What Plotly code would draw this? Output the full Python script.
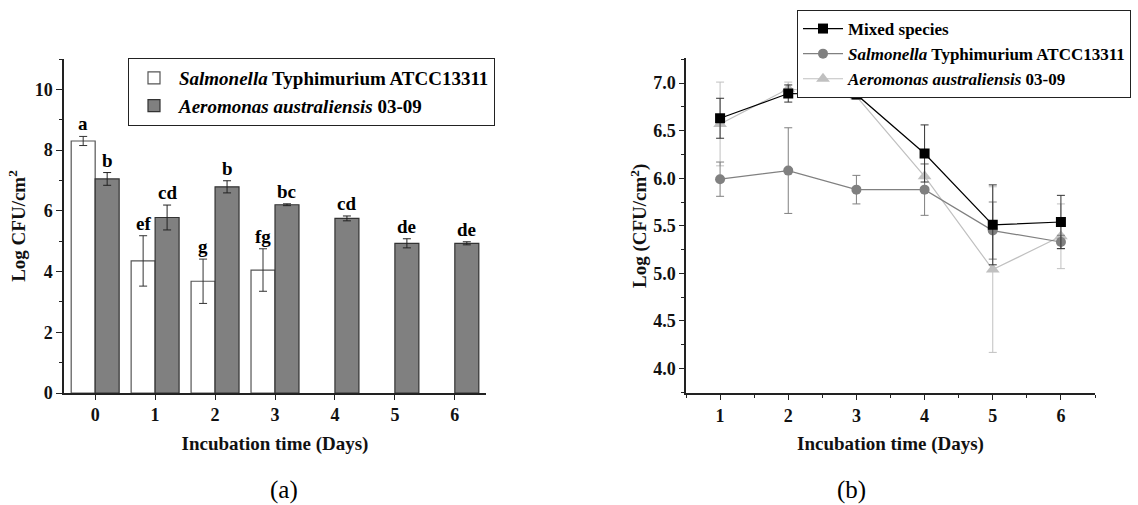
import plotly.graph_objects as go

# ---------------- data ----------------
days_a = [0, 1, 2, 3, 4, 5, 6]
salm_days = [0, 1, 2, 3]
salm_vals = [8.30, 4.35, 3.68, 4.05]
salm_err = [0.15, 0.83, 0.73, 0.70]
salm_letters = ["a", "ef", "g", "fg"]

aero_vals = [7.05, 5.78, 6.79, 6.20, 5.75, 4.93, 4.93]
aero_err = [0.21, 0.41, 0.20, 0.03, 0.08, 0.15, 0.05]
aero_letters = ["b", "cd", "b", "bc", "cd", "de", "de"]

days_b = [1, 2, 3, 4, 5, 6]
mixed_vals = [6.63, 6.89, 6.88, 6.26, 5.51, 5.54]
mixed_err = [0.21, 0.09, 0.01, 0.30, 0.42, 0.28]
salm_b_vals = [5.99, 6.08, 5.88, 5.88, 5.45, 5.33]
salm_b_err = [0.18, 0.45, 0.15, 0.27, 0.30, 0.07]
aero_b_vals = [6.57, 6.94, 6.86, 6.02, 5.04, 5.39]
aero_b_err = [0.44, 0.07, 0.03, 0.13, 0.87, 0.34]

FONT = "Liberation Serif"
BARGAP = 0.2
half = (1 - BARGAP) / 4  # offset of each bar's centre within a 2-bar group

fig = go.Figure()

# ---------------- panel (a) ----------------
fig.add_trace(go.Bar(
    x=salm_days, y=salm_vals, name="<i>Salmonella</i> Typhimurium ATCC13311",
    marker=dict(color="white", line=dict(color="#555555", width=1.2)),
    error_y=dict(type="data", array=salm_err, color="#333333", thickness=1, width=4),
    xaxis="x", yaxis="y", legend="legend"))
fig.add_trace(go.Bar(
    x=days_a, y=aero_vals, name="<i>Aeromonas australiensis</i> 03-09",
    marker=dict(color="#808080", line=dict(color="#333333", width=1.2)),
    error_y=dict(type="data", array=aero_err, color="#222222", thickness=1, width=4),
    xaxis="x", yaxis="y", legend="legend"))

annotations = []
for d, v, e, t in zip(salm_days, salm_vals, salm_err, salm_letters):
    annotations.append(dict(x=d - half, y=v + e, xref="x", yref="y", text=t,
                            showarrow=False, yanchor="bottom", yshift=0,
                            font=dict(family=FONT, size=19, color="black", weight="bold")))
for d, v, e, t in zip(days_a, aero_vals, aero_err, aero_letters):
    annotations.append(dict(x=d + half, y=v + e, xref="x", yref="y", text=t,
                            showarrow=False, yanchor="bottom", yshift=0,
                            font=dict(family=FONT, size=19, color="black", weight="bold")))

# ---------------- panel (b) ----------------
fig.add_trace(go.Scatter(
    x=days_b, y=aero_b_vals, name="<i>Aeromonas australiensis</i> 03-09",
    mode="lines+markers", line=dict(color="#c0c0c0", width=1.2),
    marker=dict(symbol="triangle-up", size=12, color="#c0c0c0"),
    error_y=dict(type="data", array=aero_b_err, color="#c0c0c0", thickness=1, width=4),
    xaxis="x2", yaxis="y2", legend="legend2", legendrank=3))
fig.add_trace(go.Scatter(
    x=days_b, y=salm_b_vals, name="<i>Salmonella</i> Typhimurium ATCC13311",
    mode="lines+markers", line=dict(color="#808080", width=1.2),
    marker=dict(symbol="circle", size=10, color="#808080"),
    error_y=dict(type="data", array=salm_b_err, color="#808080", thickness=1, width=4),
    xaxis="x2", yaxis="y2", legend="legend2", legendrank=2))
fig.add_trace(go.Scatter(
    x=days_b, y=mixed_vals, name="Mixed species",
    mode="lines+markers", line=dict(color="black", width=1.2),
    marker=dict(symbol="square", size=10, color="black"),
    error_y=dict(type="data", array=mixed_err, color="#333333", thickness=1, width=4),
    xaxis="x2", yaxis="y2", legend="legend2", legendrank=1))

# captions
annotations.append(dict(x=268 / 1138, y=1 - 490 / 505, xref="paper", yref="paper",
                        text="(a)", showarrow=False, yanchor="middle",
                        font=dict(family=FONT, size=25, color="black")))
annotations.append(dict(x=868 / 1138, y=1 - 490 / 505, xref="paper", yref="paper",
                        text="(b)", showarrow=False, yanchor="middle",
                        font=dict(family=FONT, size=25, color="black")))

tickfont = dict(family=FONT, size=18, color="#111111", weight="bold")
titlefont = dict(family=FONT, size=19, color="#111111", weight="bold")
axcol = "#222222"

fig.update_layout(
    template="none",
    width=1138, height=505,
    margin=dict(l=0, r=0, t=0, b=0, pad=0, autoexpand=False),
    paper_bgcolor="white", plot_bgcolor="white",
    barmode="group", bargap=BARGAP, bargroupgap=0,
    showlegend=True,
    annotations=annotations,
    xaxis=dict(domain=[64 / 1138, 486 / 1138], anchor="y", range=[-0.52, 6.52],
               automargin=False,
               tickmode="array", tickvals=days_a, ticks="outside", ticklen=5,
               tickcolor=axcol, showline=True, linecolor=axcol, linewidth=1.5,
               showgrid=False, zeroline=False, tickfont=tickfont,
               title=dict(text="Incubation time (Days)", font=titlefont, standoff=12)),
    yaxis=dict(domain=[1 - 393 / 505, 1 - 59 / 505], anchor="x", range=[0, 11],
               automargin=False,
               tickvals=[0, 2, 4, 6, 8, 10], ticks="outside", ticklen=6,
               tickcolor=axcol, showline=True, linecolor=axcol, linewidth=1.5,
               showgrid=False, zeroline=False, tickfont=tickfont,
               minor=dict(dtick=1, tick0=0, ticks="outside", ticklen=3, tickcolor=axcol,
                          showgrid=False),
               title=dict(text="Log CFU/cm<sup>2</sup>", font=titlefont, standoff=4)),
    xaxis2=dict(domain=[686 / 1138, 1095 / 1138], anchor="y2", range=[0.5, 6.5],
                automargin=False,
                tickvals=days_b, ticks="outside", ticklen=5,
                tickcolor=axcol, showline=True, linecolor=axcol, linewidth=1.5,
                showgrid=False, zeroline=False, tickfont=tickfont,
                minor=dict(dtick=0.5, tick0=0.5, ticks="outside", ticklen=3, tickcolor=axcol,
                           showgrid=False),
                title=dict(text="Incubation time (Days)", font=titlefont, standoff=12)),
    yaxis2=dict(domain=[1 - 393.3 / 505, 1 - 58.3 / 505], anchor="x2", range=[3.74, 7.26],
                automargin=False,
                tickvals=[4.0, 4.5, 5.0, 5.5, 6.0, 6.5, 7.0], tickformat=".1f",
                ticks="outside", ticklen=5,
                tickcolor=axcol, showline=True, linecolor=axcol, linewidth=1.5,
                showgrid=False, zeroline=False, tickfont=tickfont,
                minor=dict(dtick=0.25, tick0=4.0, ticks="outside", ticklen=3, tickcolor=axcol,
                           showgrid=False),
                title=dict(text="Log (CFU/cm<sup>2</sup>)", font=titlefont, standoff=1)),
    legend=dict(x=128 / 1138, y=1 - 58 / 505, xanchor="left", yanchor="top",
                bgcolor="white", bordercolor="#222222", borderwidth=1,
                font=dict(family=FONT, size=19, color="black", weight="bold"),
                tracegroupgap=0, itemwidth=40),
    legend2=dict(x=797 / 1138, y=1 - 10 / 505, xanchor="left", yanchor="top",
                 bgcolor="white", bordercolor="#222222", borderwidth=1,
                 font=dict(family=FONT, size=17, color="black", weight="bold"),
                 tracegroupgap=0, itemwidth=40, traceorder="normal"),
)

fig.write_html("out.html")
